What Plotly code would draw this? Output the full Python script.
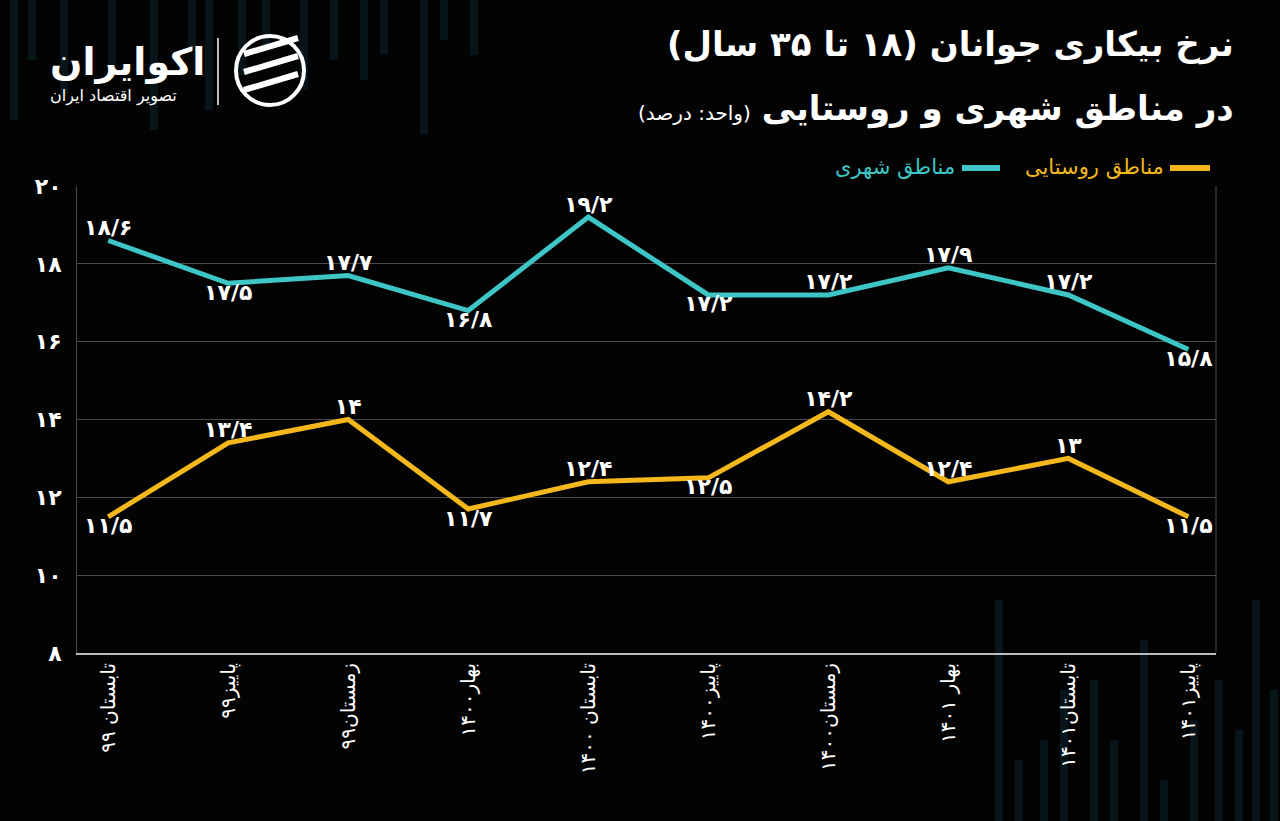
import plotly.graph_objects as go

seasons = [
    "تابستان ۹۹", "پاییز۹۹", "زمستان۹۹", "بهار۱۴۰۰", "تابستان ۱۴۰۰",
    "پاییز۱۴۰۰", "زمستان۱۴۰۰", "بهار ۱۴۰۱", "تابستان۱۴۰۱", "پاییز۱۴۰۱",
]
urban = [18.6, 17.5, 17.7, 16.8, 19.2, 17.2, 17.2, 17.9, 17.2, 15.8]
rural = [11.5, 13.4, 14.0, 11.7, 12.4, 12.5, 14.2, 12.4, 13.0, 11.5]
y_ticks = [8, 10, 12, 14, 16, 18, 20]

FA_DIGITS = str.maketrans("0123456789.", "۰۱۲۳۴۵۶۷۸۹/")


def fa(v):
    s = f"{v:g}"
    return s.translate(FA_DIGITS)


CYAN = "#3ec6c6"
YELLOW = "#f4b81c"
FONT = "DejaVu Sans"
W, H = 1280, 821
L, R, T, B = 77, 64, 186, 168

urban_pos = ["top center", "bottom center", "top center", "bottom center", "top center",
             "bottom center", "top center", "top center", "top center", "bottom center"]
rural_pos = ["bottom center", "top center", "top center", "bottom center", "top center",
             "bottom center", "top center", "top center", "top center", "bottom center"]


def px(x):
    return (x - L) / (W - L - R)


def py(y):
    return (H - B - y) / (H - T - B)


fig = go.Figure()
fig.add_trace(go.Scatter(
    x=seasons, y=urban, mode="lines+text", name="مناطق شهری",
    line=dict(color=CYAN, width=5),
    text=[fa(v) for v in urban], textposition=urban_pos,
    textfont=dict(family=FONT, size=22, color="white", weight="bold"),
    cliponaxis=False,
))
fig.add_trace(go.Scatter(
    x=seasons, y=rural, mode="lines+text", name="مناطق روستایی",
    line=dict(color=YELLOW, width=5),
    text=[fa(v) for v in rural], textposition=rural_pos,
    textfont=dict(family=FONT, size=22, color="white", weight="bold"),
    cliponaxis=False,
))

fig.update_xaxes(
    range=[-0.26, 9.23], tickangle=-90, showgrid=False,
    showline=True, linecolor="#bdbdbd", linewidth=2,
    tickfont=dict(family=FONT, size=20, color="white"), ticks="",
)
fig.update_yaxes(
    range=[8, 20], tickvals=y_ticks, ticktext=[fa(v) for v in y_ticks],
    showgrid=True, gridcolor="#4a4a4a", gridwidth=1, zeroline=False,
    showline=True, linecolor="#4a4a4a", linewidth=1,
    tickfont=dict(family=FONT, size=22, color="white", weight="bold"), ticks="", ticklabelstandoff=10,
)

# faint candlestick decoration in the background
deco = [
    (10, 0, 120), (28, 0, 60), (60, 0, 95), (108, 0, 70), (150, 0, 130), (188, 0, 50),
    (205, 0, 110), (238, 0, 75), (262, 0, 45), (300, 0, 90), (330, 0, 60),
    (360, 0, 80), (380, 0, 55), (420, 0, 135), (440, 0, 40), (470, 0, 55),
    (995, 600, 821), (1015, 760, 821), (1040, 740, 821), (1060, 690, 821),
    (1090, 680, 821), (1110, 740, 821), (1140, 640, 821), (1160, 780, 821),
    (1190, 720, 821), (1215, 680, 821), (1235, 730, 821), (1252, 600, 821), (1270, 690, 821),
]
for x0, y0, y1 in deco:
    fig.add_shape(type="rect", xref="paper", yref="paper", layer="below",
                  x0=px(x0), x1=px(x0 + 8), y0=py(y1), y1=py(y0),
                  fillcolor="#07141a", line=dict(width=0))

# right edge of the plot area
fig.add_shape(type="line", xref="paper", yref="paper", x0=1, x1=1, y0=0, y1=1,
              line=dict(color="#4a4a4a", width=1))

# legend (right-to-left)
fig.add_shape(type="line", xref="paper", yref="paper", x0=px(1170), x1=px(1210), y0=py(168), y1=py(168),
              line=dict(color=YELLOW, width=6))
fig.add_annotation(x=px(1166), y=py(167), xref="paper", yref="paper", xanchor="right", yanchor="middle",
                   text="مناطق روستایی", showarrow=False,
                   font=dict(family=FONT, size=21, color=YELLOW))
fig.add_shape(type="line", xref="paper", yref="paper", x0=px(962), x1=px(1000), y0=py(168), y1=py(168),
              line=dict(color=CYAN, width=6))
fig.add_annotation(x=px(957), y=py(167), xref="paper", yref="paper", xanchor="right", yanchor="middle",
                   text="مناطق شهری", showarrow=False,
                   font=dict(family=FONT, size=21, color=CYAN))

# title
fig.add_annotation(x=px(1236), y=py(45), xref="paper", yref="paper", xanchor="right", yanchor="middle",
                   text="<b>نرخ بیکاری جوانان (۱۸ تا ۳۵ سال)</b>", showarrow=False,
                   font=dict(family=FONT, size=34, color="white"))
fig.add_annotation(x=px(1236), y=py(108), xref="paper", yref="paper", xanchor="right", yanchor="middle",
                   text="<span style='font-size:20px'>(واحد: درصد)</span> <b>در مناطق شهری و روستایی</b>",
                   showarrow=False, font=dict(family=FONT, size=34, color="white"))

# logo
fig.add_annotation(x=px(48), y=py(62), xref="paper", yref="paper", xanchor="left", yanchor="middle",
                   text="<b>اکوایران</b>", showarrow=False,
                   font=dict(family=FONT, size=38, color="white"))
fig.add_annotation(x=px(48), y=py(96), xref="paper", yref="paper", xanchor="left", yanchor="middle",
                   text="تصویر اقتصاد ایران", showarrow=False,
                   font=dict(family=FONT, size=16, color="white"))
fig.add_shape(type="line", xref="paper", yref="paper", x0=px(218), x1=px(218), y0=py(105), y1=py(38),
              line=dict(color="white", width=1.5))
fig.add_shape(type="circle", xref="paper", yref="paper", x0=px(236), x1=px(304), y0=py(105), y1=py(36),
              line=dict(color="white", width=4))
for dy in (0, 18, 36):
    fig.add_shape(type="line", xref="paper", yref="paper",
                  x0=px(244), x1=px(298), y0=py(90 - dy), y1=py(74 - dy),
                  line=dict(color="white", width=6))

fig.update_layout(
    width=W, height=H,
    margin=dict(l=L, r=R, t=T, b=B),
    paper_bgcolor="#030303", plot_bgcolor="#030303",
    showlegend=False,
    font=dict(family=FONT, color="white"),
)

fig.write_html("out.html", config={"displayModeBar": False},
               post_script="document.body.style.margin='0';document.body.style.background='#030303';")
